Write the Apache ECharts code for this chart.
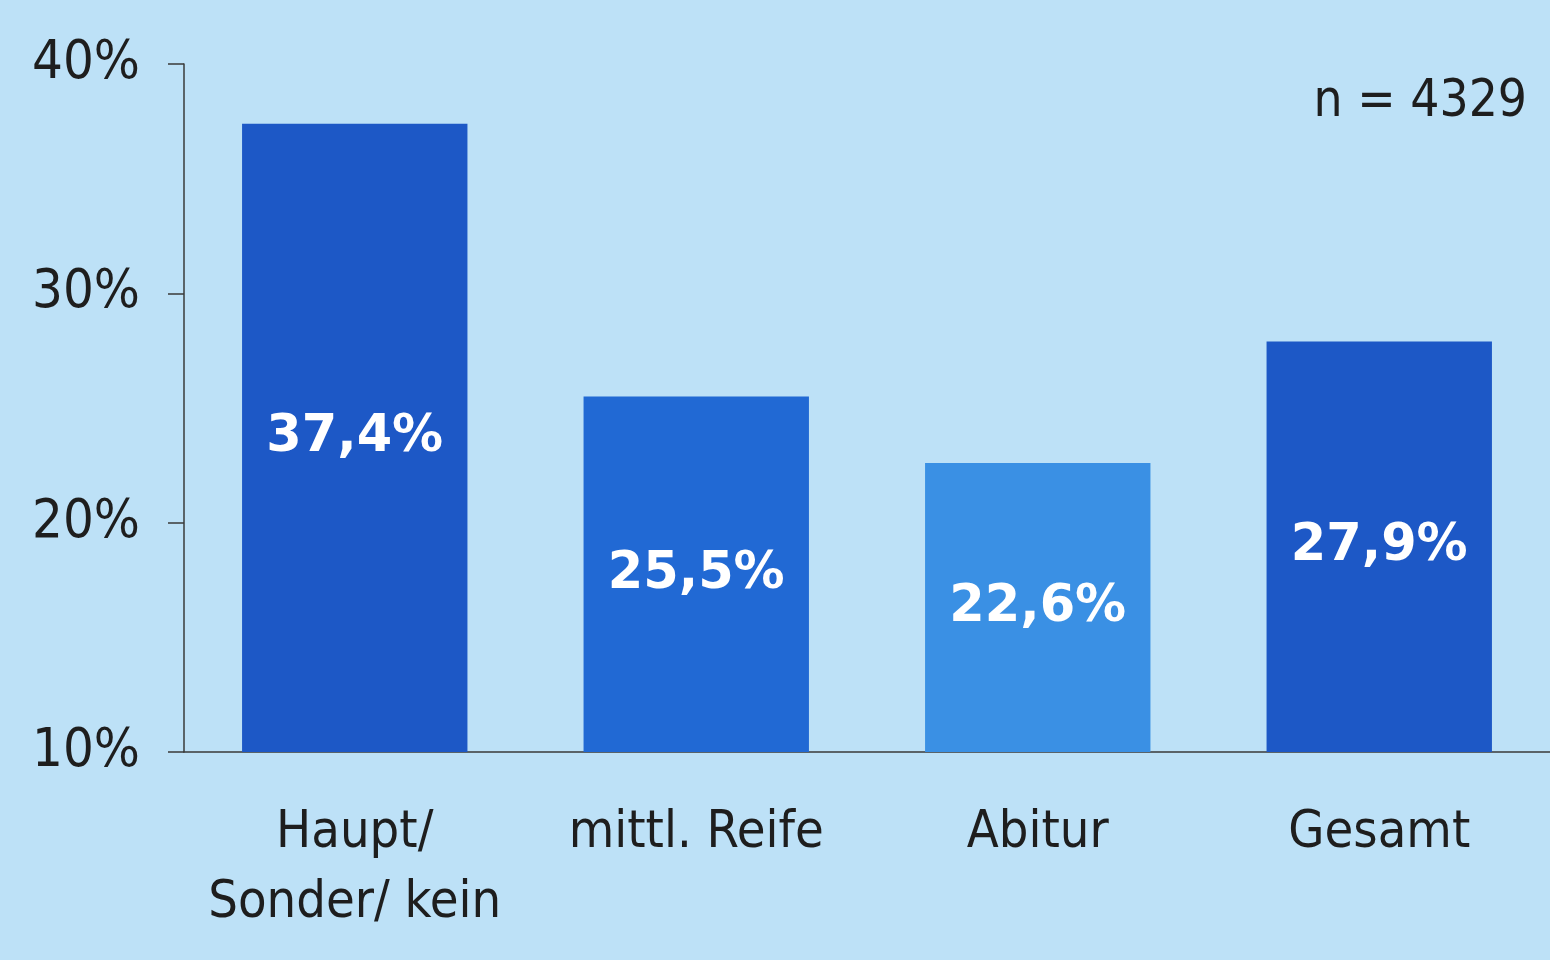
<!DOCTYPE html>
<html>
<head>
<meta charset="utf-8">
<script src="https://cdn.jsdelivr.net/npm/echarts@6/dist/echarts.min.js"></script>
<style>
  html, body { margin: 0; padding: 0; background: #bde1f7; }
  #chart { width: 1550px; height: 960px; }
</style>
</head>
<body>
<div id="chart"></div>
<script>
// data
var categories = ["Haupt/\nSonder/ kein", "mittl. Reife", "Abitur", "Gesamt"];
var values = [37.4, 25.5, 22.6, 27.9];
var barColors = ["#1d58c6", "#2169d4", "#3a90e4", "#1d58c6"];
var sampleNote = "n = 4329";

var fontFamily = "'DejaVu Sans Condensed', 'DejaVu Sans', sans-serif";

var myChart = echarts.init(document.getElementById("chart"));

var option = {
    backgroundColor: "#bde1f7",
    animation: false,
    title: {
        text: sampleNote,
        right: 18,
        top: 72,
        textStyle: {
            fontFamily: fontFamily,
            fontWeight: "normal",
            fontSize: 51,
            color: "#1e1e1e",
        },
    },
    grid: {
        left: 184,
        right: -5,
        top: 64,
        bottom: 208,
    },
    xAxis: {
        type: "category",
        data: categories,
        axisLine: { lineStyle: { color: "#3a3a3a", width: 1.5 } },
        axisTick: { show: false },
        axisLabel: {
            interval: 0,
            margin: 46,
            fontFamily: fontFamily,
            fontSize: 52,
            lineHeight: 70,
            color: "#1e1e1e",
        },
    },
    yAxis: {
        type: "value",
        min: 10,
        max: 40,
        interval: 10,
        splitLine: { show: false },
        axisLine: { show: true, lineStyle: { color: "#3a3a3a", width: 1.5 } },
        axisTick: { show: true, length: 16, lineStyle: { color: "#3a3a3a", width: 1.5 } },
        axisLabel: {
            margin: 44,
            formatter: "{value}%",
            fontFamily: fontFamily,
            fontSize: 54,
            color: "#1e1e1e",
        },
    },
    series: [
        {
            type: "bar",
            barCategoryGap: "34%",
            data: values.map(function (v, i) {
                return { value: v, itemStyle: { color: barColors[i] } };
            }),
            label: {
                show: true,
                position: "inside",
                formatter: function (p) {
                    return p.value.toFixed(1).replace(".", ",") + "%";
                },
                fontFamily: "'DejaVu Sans', sans-serif",
                fontWeight: "bold",
                fontSize: 51,
                color: "#ffffff",
            },
        },
    ],
};
myChart.setOption(option);
</script>
</body>
</html>
